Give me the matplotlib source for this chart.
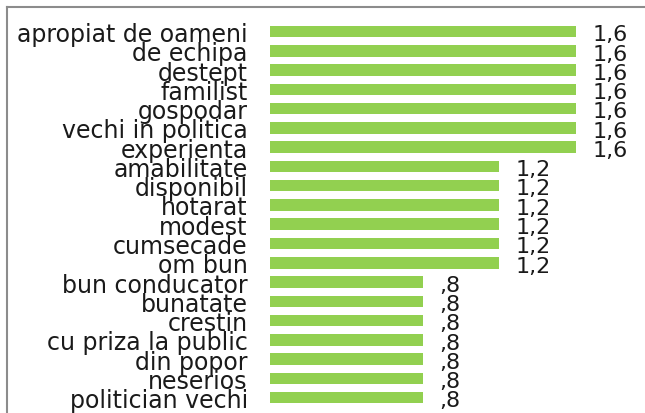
import matplotlib.pyplot as plt
from matplotlib.lines import Line2D

categories = ["apropiat de oameni", "de echipa", "destept", "familist", "gospodar",
              "vechi in politica", "experienta", "amabilitate", "disponibil", "hotarat",
              "modest", "cumsecade", "om bun", "bun conducator", "bunatate", "crestin",
              "cu priza la public", "din popor", "neserios", "politician vechi"]
values = [1.6, 1.6, 1.6, 1.6, 1.6, 1.6, 1.6, 1.2, 1.2, 1.2, 1.2, 1.2, 1.2,
          0.8, 0.8, 0.8, 0.8, 0.8, 0.8, 0.8]
value_labels = ["1,6"] * 7 + ["1,2"] * 6 + [",8"] * 7

W, H = 645, 414
fig = plt.figure(figsize=(W / 100, H / 100), dpi=100)
ax = fig.add_axes([270 / W, (H - 408.3) / H, (W - 270) / W, (408.3 - 22.9) / H])

y = list(range(len(categories)))
ax.barh(y, values, height=0.6, color="#92D050")
ax.set_ylim(len(categories) - 0.5, -0.5)
ax.set_xlim(0, (W - 270) / 191)

for yi, v, lab in zip(y, values, value_labels):
    ax.annotate(lab, (v, yi), xytext=(12, -2), textcoords="offset points",
                va="center", ha="left", fontsize=16, color="#1a1a1a")

ax.set_yticks(y)
ax.set_yticklabels(categories, fontsize=17, color="#1a1a1a")
ax.tick_params(axis="y", length=0, pad=16)
ax.set_xticks([])
for s in ax.spines.values():
    s.set_visible(False)

# chart area border (only left and top visible)
fig.add_artist(Line2D([7 / W, 7 / W], [0, (H - 8) / H], color="#8c8c8c", lw=1.5))
fig.add_artist(Line2D([7 / W, 1], [(H - 8) / H, (H - 8) / H], color="#8c8c8c", lw=1.5))

fig.savefig("out.png", dpi=100)
